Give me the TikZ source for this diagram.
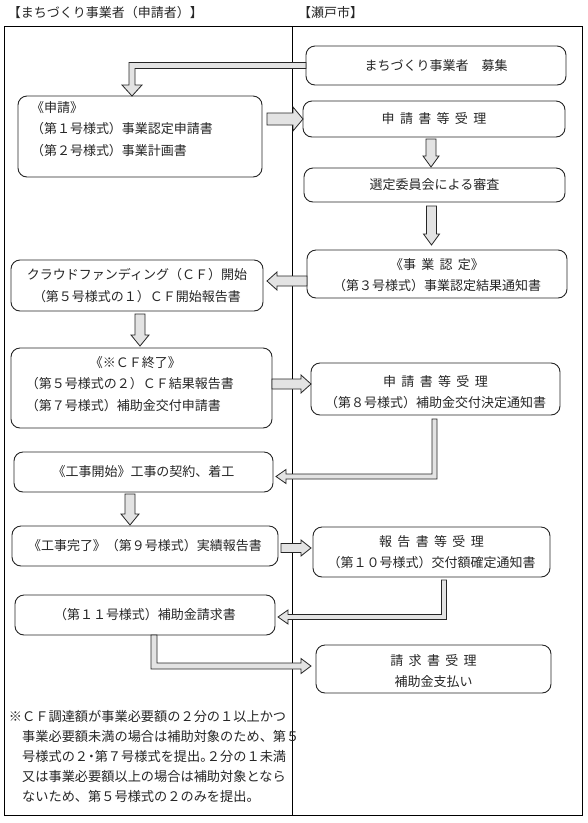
\documentclass[tikz,border=0pt]{standalone}
\usepackage{fontspec}
\setmainfont{Noto Sans CJK JP}
\usetikzlibrary{calc,fit}
\newcommand\jsp{\hspace{0.41em}}
\newcommand\barrow[5]{%
  \coordinate (tmpb) at ($(#2)!#5!(#1)$);
  \draw[blk] ($(#1)!#3!90:(#2)$) -- ($(tmpb)!#3!90:(#2)$) -- ($(tmpb)!#4!90:(#2)$)
    -- (#2) -- ($(tmpb)!#4!-90:(#2)$) -- ($(tmpb)!#3!-90:(#2)$) -- ($(#1)!#3!-90:(#2)$) -- cycle;}
\begin{document}
\begin{tikzpicture}[x=1pt,y=-1pt,
  box/.style={draw=black!85, line width=0.9pt, rounded corners=9pt, fill=white, inner sep=0pt, outer sep=0pt},
  txt/.style={inner sep=0pt, outer sep=0pt, font=\fontsize{13}{21.5}\selectfont, text=black!85},
  note/.style={inner sep=0pt, outer sep=0pt, font=\fontsize{13.2}{20}\selectfont, text=black!85, align=left},
  blk/.style={draw=black!85, fill=gray!22, line width=0.8pt, line join=miter},
  frame/.style={draw=black, line width=1pt}]
\useasboundingbox (0,0) rectangle (588,823);
\fill[white] (0,0) rectangle (588,823);
% headers
\node[txt, anchor=west] (h1) at (8,13) {【まちづくり事業者（申請者）】};
\node[txt, anchor=west] (h2) at (298,13) {【瀬戸市】};
% frame
\draw[frame] (4,26) rectangle (582,815);
\draw[black, line width=0.8pt] (292,26) -- (292,815);
% right boxes
\node[box, fit={(306,46) (566,85)}] (R1) {};
\node[txt] (R1t) at (R1.center) {まちづくり事業者　募集};
\node[box, fit={(303,101) (565,137)}] (R2) {};
\node[txt] (R2t) at (R2.center) {申\jsp 請\jsp 書\jsp 等\jsp 受\jsp 理};
\node[box, fit={(304,168) (565,202)}] (R3) {};
\node[txt] (R3t) at (R3.center) {選定委員会による審査};
\node[box, fit={(307,250) (567,298)}] (R4) {};
\node[txt, align=center] (R4t) at ($(R4.center)+(0,1)$) {《事\jsp 業\jsp 認\jsp 定》\\（第３号様式）事業認定結果通知書};
\node[box, fit={(311,363) (560,415)}] (R5) {};
\node[txt, align=center] (R5t) at ($(R5.center)+(0,3)$) {申\jsp 請\jsp 書\jsp 等\jsp 受\jsp 理\\（第８号様式）補助金交付決定通知書};
\node[box, fit={(313,527) (550,577)}] (R6) {};
\node[txt, align=center] (R6t) at (R6.center) {報\jsp 告\jsp 書\jsp 等\jsp 受\jsp 理\\（第１０号様式）交付額確定通知書};
\node[box, fit={(316,645) (551,693)}] (R7) {};
\node[txt, align=center] (R7t) at ($(R7.center)+(0,2)$) {請\jsp 求\jsp 書\jsp 受\jsp 理\\補助金支払い};
% left boxes
\node[box, fit={(18,96) (262,177)}] (L1) {};
\node[txt, align=left, anchor=west] (L1t) at (31,129) {《申請》\\（第１号様式）事業認定申請書\\（第２号様式）事業計画書};
\node[box, fit={(11,260) (263,311)}] (L2) {};
\node[txt, align=center] (L2t) at (L2.center) {クラウドファンディング（ＣＦ）開始\\（第５号様式の１）ＣＦ開始報告書};
\node[box, fit={(11,348) (272,428)}] (L3) {};
\node[txt, align=left, anchor=west] (L3t) at (26,384) {\hspace*{64pt}《※ＣＦ終了》\\（第５号様式の２）ＣＦ結果報告書\\（第７号様式）補助金交付申請書};
\node[box, fit={(14,452) (273,492)}] (L4) {};
\node[txt] (L4t) at (L4.center) {《工事開始》工事の契約、着工};
\node[box, fit={(12,526) (278,566)}] (L5) {};
\node[txt] (L5t) at (L5.center) {《工事完了》（第９号様式）実績報告書};
\node[box, fit={(15,595) (275,635)}] (L6) {};
\node[txt] (L6t) at (L6.center) {（第１１号様式）補助金請求書};
% note
\node[note, anchor=north west] (N) at (9,710) {※ＣＦ調達額が事業必要額の２分の１以上かつ\\%
\hspace*{1em}事業必要額未満の場合は補助対象のため、第５\\%
\hspace*{1em}号様式の２\makebox[0.5em]{・}第７号様式を提出\makebox[0.5em][l]{。}２分の１未満\\%
\hspace*{1em}又は事業必要額以上の場合は補助対象となら\\%
\hspace*{1em}ないため、第５号様式の２のみを提出。};
% ---- arrows ----
% A1: R1 -> L1 (elbow)
\coordinate (a1t) at (L1.north -| 132,0);
\draw[blk] let \p1=(R1.west), \p2=(a1t) in
  (\x1,\y1+3pt) -- (\x2-3pt,\y1+3pt) -- (\x2-3pt,\y2+11pt) -- (\x2-10pt,\y2+11pt) -- (\p2)
  -- (\x2+10pt,\y2+11pt) -- (\x2+3pt,\y2+11pt) -- (\x2+3pt,\y1-3pt) -- (\x1,\y1-3pt) -- cycle;
% A2: L1 -> R2
\coordinate (a2s) at ($(L1.east |- R2.west)+(5,0)$);
\barrow{a2s}{R2.west}{6pt}{12pt}{10pt}
% A3: R2 -> R3
\coordinate (a3s) at ($(R2.south)+(-3,2)$);
\coordinate (a3t) at ($(R3.north -| a3s)+(0,-1)$);
\barrow{a3s}{a3t}{5pt}{8pt}{11pt}
% A4: R3 -> R4
\coordinate (a4s) at ($(R3.south)+(-3,4)$);
\coordinate (a4t) at ($(R4.north -| a4s)+(0,-5)$);
\barrow{a4s}{a4t}{5pt}{8pt}{11pt}
% A5: R4 -> L2
\coordinate (a5s) at (R4.west |- 0,281);
\coordinate (a5t) at ($(L2.east |- a5s)+(4,0)$);
\barrow{a5s}{a5t}{5pt}{9pt}{10pt}
% A6: L2 -> L3
\coordinate (a6s) at ($(L2.south -| 140,0)+(0,3)$);
\coordinate (a6t) at ($(L3.north -| a6s)+(0,-2)$);
\barrow{a6s}{a6t}{5pt}{9pt}{11pt}
% A7: L3 -> R5
\coordinate (a7s) at (L3.east |- 0,384);
\coordinate (a7t) at (R5.west |- a7s);
\barrow{a7s}{a7t}{5pt}{9pt}{10pt}
% A8: R5 -> L4 (elbow)
\coordinate (a8s) at ($(R5.south -| 434.5,0)+(0,4)$);
\coordinate (a8t) at ($(L4.east |- 0,476.5)+(3,0)$);
\draw[blk] let \p1=(a8s), \p2=(a8t) in
  (\x1-2.5pt,\y1) -- (\x1+2.5pt,\y1) -- (\x1+2.5pt,\y2-2.5pt) -- (\x2+10pt,\y2-2.5pt) -- (\x2+10pt,\y2-7pt)
  -- (\p2) -- (\x2+10pt,\y2+7pt) -- (\x2+10pt,\y2+2.5pt) -- (\x1-2.5pt,\y2+2.5pt) -- cycle;
% A9: L4 -> L5
\coordinate (a9s) at ($(L4.south -| 130,0)+(0,2)$);
\coordinate (a9t) at ($(L5.north -| a9s)+(0,-1)$);
\barrow{a9s}{a9t}{5pt}{9pt}{11pt}
% A10: L5 -> R6
\coordinate (a10s) at ($(L5.east |- 0,548)+(3,0)$);
\coordinate (a10t) at ($(R6.west |- a10s)+(-2,0)$);
\barrow{a10s}{a10t}{4.5pt}{8pt}{10pt}
% A11: R6 -> L6 (elbow)
\coordinate (a11s) at ($(R6.south -| 444,0)+(0,3)$);
\coordinate (a11t) at ($(L6.east |- 0,617)+(3,0)$);
\draw[blk] let \p1=(a11s), \p2=(a11t) in
  (\x1-2.5pt,\y1) -- (\x1+2.5pt,\y1) -- (\x1+2.5pt,\y2-2.5pt) -- (\x2+10pt,\y2-2.5pt) -- (\x2+10pt,\y2-7pt)
  -- (\p2) -- (\x2+10pt,\y2+7pt) -- (\x2+10pt,\y2+2.5pt) -- (\x1-2.5pt,\y2+2.5pt) -- cycle;
% A12: L6 -> R7 (elbow)
\coordinate (a12s) at (L6.south -| 154,0);
\coordinate (a12t) at ($(R7.west |- 0,666)+(-5,0)$);
\draw[blk] let \p1=(a12s), \p2=(a12t) in
  (\x1-3pt,\y1) -- (\x1-3pt,\y2-3pt) -- (\x2-10pt,\y2-3pt) -- (\x2-10pt,\y2-7.5pt) -- (\p2)
  -- (\x2-10pt,\y2+7.5pt) -- (\x2-10pt,\y2+3pt) -- (\x1+3pt,\y2+3pt) -- (\x1+3pt,\y1) -- cycle;
\end{tikzpicture}
\end{document}
